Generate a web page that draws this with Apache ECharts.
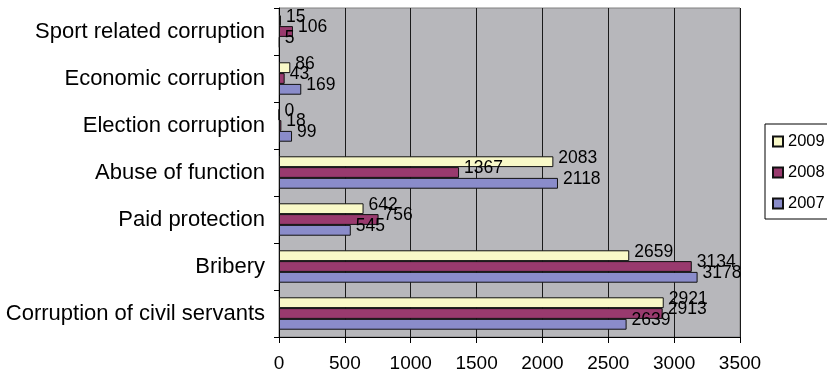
<!DOCTYPE html>
<html>
<head>
<meta charset="utf-8">
<script src="https://cdn.jsdelivr.net/npm/echarts@6/dist/echarts.min.js"></script>
<style>
  html, body { margin: 0; padding: 0; background: #ffffff; }
  #chart { width: 827px; height: 378px; }
</style>
</head>
<body>
<div id="chart"></div>
<script>
// Registered corruption offences by type and year
const categories = [
  'Sport related corruption',
  'Economic corruption',
  'Election corruption',
  'Abuse of function',
  'Paid protection',
  'Bribery',
  'Corruption of civil servants'
];
const years = ['2009', '2008', '2007'];
const values2009 = [15, 86, 0, 2083, 642, 2659, 2921];
const values2008 = [106, 43, 18, 1367, 756, 3134, 2913];
const values2007 = [5, 169, 99, 2118, 545, 3178, 2639];
const xTicks = [0, 500, 1000, 1500, 2000, 2500, 3000, 3500];

const colors = ['#f9f9c8', '#993a6e', '#8a8cca'];
const seriesValues = [values2009, values2008, values2007];
const font = '"Liberation Sans", Arial, sans-serif';

const chart = echarts.init(document.getElementById('chart'), null, { renderer: 'canvas' });

chart.setOption({
  animation: false,
  textStyle: { fontFamily: font },
  grid: {
    left: 279, right: 87, top: 8, bottom: 41,
    show: true,
    backgroundColor: '#b7b7bb',
    borderColor: '#808080',
    borderWidth: 1
  },
  legend: {
    data: years,
    orient: 'vertical',
    left: 765,
    top: 124,
    padding: [9, 30, 7, 7],
    itemGap: 14,
    itemWidth: 10,
    itemHeight: 10,
    icon: 'rect',
    borderColor: '#000000',
    borderWidth: 1,
    backgroundColor: '#ffffff',
    textStyle: { fontSize: 16.5, color: '#000000', fontFamily: font }
  },
  xAxis: {
    type: 'value',
    min: xTicks[0],
    max: xTicks[xTicks.length - 1],
    interval: 500,
    axisLine: { show: true, lineStyle: { color: '#000000', width: 1 } },
    axisTick: { show: true, length: 6, lineStyle: { color: '#000000' } },
    axisLabel: {
      fontSize: 19, color: '#000000', margin: 17, fontFamily: font,
      formatter: (v) => String(v)
    },
    splitLine: { show: true, lineStyle: { color: '#1a1a1a', width: 1 } }
  },
  yAxis: {
    type: 'category',
    data: categories,
    inverse: true,
    axisLine: { show: true, lineStyle: { color: '#000000', width: 1 } },
    axisTick: { show: true, length: 5, lineStyle: { color: '#000000' } },
    axisLabel: { fontSize: 22, color: '#000000', margin: 14, fontFamily: font },
    splitLine: { show: false }
  },
  series: years.map((y, i) => ({
    name: y,
    type: 'bar',
    data: seriesValues[i],
    barGap: '0%',
    barCategoryGap: '31%',
    itemStyle: { color: colors[i], borderColor: '#111111', borderWidth: 1 },
    label: {
      show: true,
      position: 'right',
      distance: 5,
      offset: [0, -4],
      fontSize: 17.5,
      color: '#000000',
      fontFamily: font
    }
  }))
});
</script>
</body>
</html>
